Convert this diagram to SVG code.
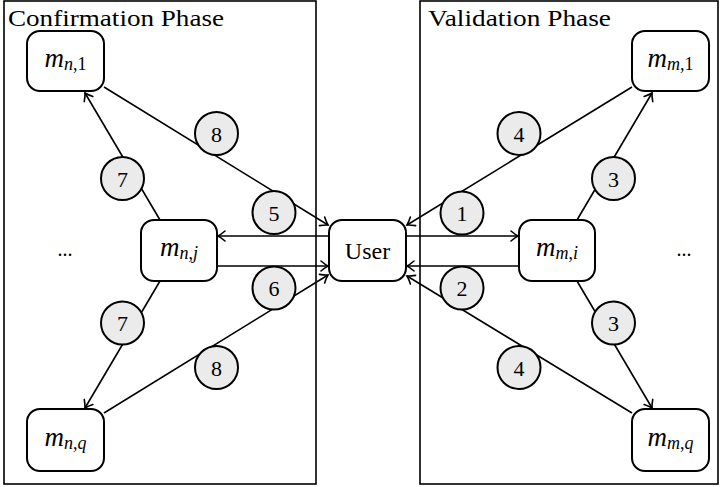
<svg xmlns="http://www.w3.org/2000/svg" width="722" height="487" viewBox="0 0 722 487">
<defs>
<marker id="arr" markerUnits="userSpaceOnUse" markerWidth="20" markerHeight="20" viewBox="-10 -10 20 20" refX="0" refY="0" orient="auto">
<path d="M -7,-5 Q -2.5,-1.2 0,0 Q -2.5,1.2 -7,5" fill="none" stroke="#000" stroke-width="1.6" stroke-linecap="round"/>
</marker>
</defs>
<style>
.frame{fill:none;stroke:#000;stroke-width:1.6}
.node{fill:#fff;stroke:#000;stroke-width:2}
.conn line{stroke:#000;stroke-width:1.6}
.arrow{marker-end:url(#arr)}
.badge circle{fill:#ebebeb;stroke:#000;stroke-width:2}
text{font-family:'Liberation Serif','Times New Roman','DejaVu Serif',serif;fill:#000}
.hdr{font-size:23.5px}
.lbl{font-size:24px}
.num{font-size:22px;text-anchor:middle}
.m{font-size:27px;text-anchor:middle}
.sub{font-size:18px}
.it{font-style:italic}
</style>
<rect width="722" height="487" fill="#fff"/>
<g id="confirmation-phase">
<rect class="frame" x="4" y="1" width="312" height="483"/>
<text class="hdr" x="8" y="26" textLength="216" lengthAdjust="spacingAndGlyphs">Confirmation Phase</text>
<text x="65" y="256" font-size="20" text-anchor="middle">...</text>
</g>
<g id="validation-phase">
<rect class="frame" x="420" y="1" width="298" height="483"/>
<text class="hdr" x="428" y="26" textLength="183" lengthAdjust="spacingAndGlyphs">Validation Phase</text>
<text x="684" y="256" font-size="20" text-anchor="middle">...</text>
</g>
<g id="connectors" class="conn">
<line class="arrow" x1="406" y1="236" x2="518" y2="236"/>
<line class="arrow" x1="519" y1="266" x2="407" y2="266"/>
<line class="arrow" x1="577" y1="220" x2="652" y2="93"/>
<line class="arrow" x1="577" y1="281" x2="652" y2="408"/>
<line class="arrow" x1="632" y1="87" x2="407" y2="225"/>
<line class="arrow" x1="632" y1="413" x2="407" y2="276"/>
<line class="arrow" x1="329" y1="236" x2="218" y2="236"/>
<line class="arrow" x1="217" y1="266" x2="328" y2="266"/>
<line class="arrow" x1="160" y1="220" x2="85" y2="93"/>
<line class="arrow" x1="160" y1="281" x2="85" y2="408"/>
<line class="arrow" x1="104" y1="87" x2="328" y2="225"/>
<line class="arrow" x1="104" y1="413" x2="328" y2="275"/>
</g>
<g id="badges" class="badge">
<g id="b1"><circle cx="462" cy="213" r="21.5"/><text class="num" x="462" y="221">1</text></g>
<g id="b2"><circle cx="462" cy="288" r="21.5"/><text class="num" x="462" y="296">2</text></g>
<g id="b3a"><circle cx="613.5" cy="178.5" r="21.5"/><text class="num" x="613.5" y="186.5">3</text></g>
<g id="b3b"><circle cx="613.5" cy="323" r="21.5"/><text class="num" x="613.5" y="331">3</text></g>
<g id="b4a"><circle cx="519" cy="133.5" r="21.5"/><text class="num" x="519" y="141.5">4</text></g>
<g id="b4b"><circle cx="519" cy="367.5" r="21.5"/><text class="num" x="519" y="375.5">4</text></g>
<g id="b5"><circle cx="274" cy="212.5" r="21.5"/><text class="num" x="274" y="220.5">5</text></g>
<g id="b6"><circle cx="274" cy="288" r="21.5"/><text class="num" x="274" y="296">6</text></g>
<g id="b7a"><circle cx="122.5" cy="178.5" r="21.5"/><text class="num" x="122.5" y="186.5">7</text></g>
<g id="b7b"><circle cx="122.5" cy="323" r="21.5"/><text class="num" x="122.5" y="331">7</text></g>
<g id="b8a"><circle cx="216.5" cy="133.5" r="21.5"/><text class="num" x="216.5" y="141.5">8</text></g>
<g id="b8b"><circle cx="216.5" cy="367.5" r="21.5"/><text class="num" x="216.5" y="375.5">8</text></g>
</g>
<g id="user">
<rect class="node" x="329" y="220" width="77" height="61" rx="13"/>
<text class="lbl" x="367.5" y="259" text-anchor="middle">User</text>
</g>
<g id="m-n-1">
<rect class="node" x="27" y="31" width="77" height="60" rx="13"/>
<text class="m" x="65.5" y="67"><tspan class="it">m</tspan><tspan class="sub" dy="3"><tspan class="it">n</tspan>,1</tspan></text>
</g>
<g id="m-n-j">
<rect class="node" x="141" y="220" width="76" height="61" rx="13"/>
<text class="m" x="179" y="256"><tspan class="it">m</tspan><tspan class="sub" dy="3"><tspan class="it">n</tspan>,<tspan class="it">j</tspan></tspan></text>
</g>
<g id="m-n-q">
<rect class="node" x="27" y="409" width="77" height="62" rx="13"/>
<text class="m" x="65.5" y="446"><tspan class="it">m</tspan><tspan class="sub" dy="3"><tspan class="it">n</tspan>,<tspan class="it">q</tspan></tspan></text>
</g>
<g id="m-m-i">
<rect class="node" x="519" y="220" width="76" height="61" rx="13"/>
<text class="m" x="557" y="256"><tspan class="it">m</tspan><tspan class="sub" dy="3"><tspan class="it">m</tspan>,<tspan class="it">i</tspan></tspan></text>
</g>
<g id="m-m-1">
<rect class="node" x="632" y="31" width="77" height="60" rx="13"/>
<text class="m" x="670.5" y="67"><tspan class="it">m</tspan><tspan class="sub" dy="3"><tspan class="it">m</tspan>,1</tspan></text>
</g>
<g id="m-m-q">
<rect class="node" x="632" y="409" width="77" height="62" rx="13"/>
<text class="m" x="670.5" y="446"><tspan class="it">m</tspan><tspan class="sub" dy="3"><tspan class="it">m</tspan>,<tspan class="it">q</tspan></tspan></text>
</g>
</svg>
